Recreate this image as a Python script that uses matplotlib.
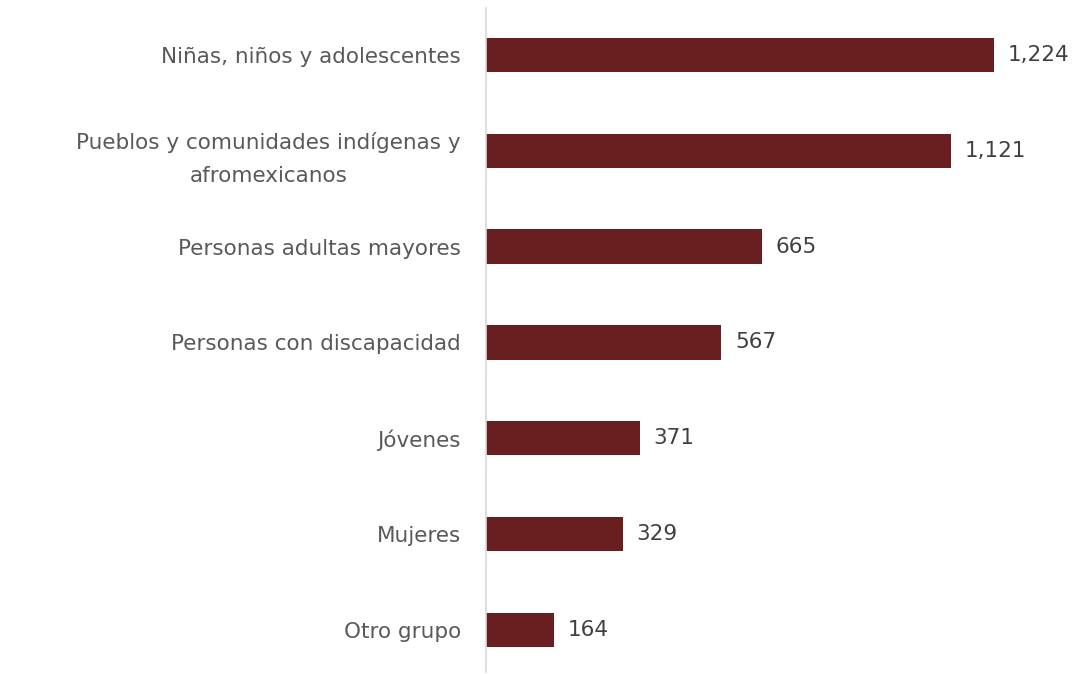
import matplotlib
matplotlib.use("Agg")
import matplotlib.pyplot as plt

# Data
categories = [
    "Niñas, niños y adolescentes",
    "Pueblos y comunidades indígenas y\nafromexicanos",
    "Personas adultas mayores",
    "Personas con discapacidad",
    "Jóvenes",
    "Mujeres",
    "Otro grupo",
]
values = [1224, 1121, 665, 567, 371, 329, 164]

plt.rcParams["font.family"] = ["DejaVu Sans"]

fig = plt.figure(figsize=(10.85, 6.74), dpi=100)
ax = fig.add_axes([0.448, 0.003, 0.552, 0.985])

y = list(range(len(categories)))
ax.barh(y, values, height=0.36, color="#691E1F")
ax.set_ylim(6.44, -0.49)
ax.set_xlim(0, 1443)

# Value labels at the end of each bar
for yi, v in zip(y, values):
    ax.text(v + 33, yi, f"{v:,}", va="center", ha="left",
            fontsize=15.5, color="#404040")

ax.set_yticks(y)
ax.set_yticklabels(categories, fontsize=15.5, color="#595959",
                   multialignment="center", linespacing=1.8)
ax.tick_params(axis="y", length=0, pad=18)
ax.set_xticks([])

for side in ["top", "right", "bottom"]:
    ax.spines[side].set_visible(False)
ax.spines["left"].set_color("#D9D9D9")
ax.spines["left"].set_linewidth(1.2)

fig.savefig("out.png", dpi=100)
